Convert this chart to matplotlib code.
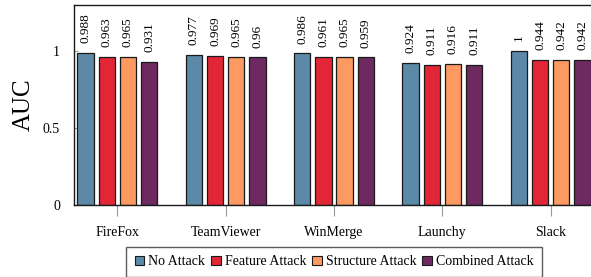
import matplotlib
matplotlib.use("Agg")
import matplotlib.pyplot as plt
import numpy as np
from matplotlib.patches import Patch

categories = ["FireFox", "TeamViewer", "WinMerge", "Launchy", "Slack"]
series_names = ["No Attack", "Feature Attack", "Structure Attack", "Combined Attack"]
no_attack = [0.988, 0.977, 0.986, 0.924, 1]
feature_attack = [0.963, 0.969, 0.961, 0.911, 0.944]
structure_attack = [0.965, 0.965, 0.965, 0.916, 0.942]
combined_attack = [0.931, 0.96, 0.959, 0.911, 0.942]
value_labels = [
    ["0.988", "0.977", "0.986", "0.924", "1"],
    ["0.963", "0.969", "0.961", "0.911", "0.944"],
    ["0.965", "0.965", "0.965", "0.916", "0.942"],
    ["0.931", "0.96", "0.959", "0.911", "0.942"],
]
colors = ["#5c89a8", "#e32636", "#fd9a62", "#6e2a60"]

plt.rcParams['font.family'] = ['Liberation Serif', 'DejaVu Serif']

fig = plt.figure(figsize=(5.91, 2.77), dpi=100)
W, H = 591, 277
ax = fig.add_axes([74 / W, (H - 205) / H, (594 - 74) / W, 200 / H])

series = [no_attack, feature_attack, structure_attack, combined_attack]
x = np.arange(len(categories))
spacing = 0.196
width = 0.15
for i, (vals, col) in enumerate(zip(series, colors)):
    pos = x + (i - 1.5) * spacing
    ax.bar(pos, vals, width, color=col, edgecolor="#1a1a1a", linewidth=0.9, zorder=2)
    for p, v, lab in zip(pos, vals, value_labels[i]):
        ax.annotate(lab, (p, v), xytext=(0, 7), textcoords="offset points",
                    rotation=90, ha="center", va="bottom", fontsize=9.5)

ax.set_xlim(-0.4, 4.4)
ax.set_ylim(0, 1.3)
ax.set_xticks(x)
ax.set_xticklabels(categories, fontsize=10)
ax.set_yticks([0, 0.5, 1])
ax.set_yticklabels(["0", "0.5", "1"], fontsize=10)
ax.tick_params(axis="x", direction="out", length=8, color="#999999", width=0.8, pad=7)
ax.tick_params(axis="y", direction="in", length=3, color="#999999", width=0.8, pad=10)
ax.set_ylabel("AUC", fontsize=18, labelpad=6)
for s in ax.spines.values():
    s.set_linewidth(1.0)
    s.set_color("#1a1a1a")

handles = [Patch(facecolor=c, edgecolor="#1a1a1a", linewidth=0.8) for c in colors]
leg = fig.legend(handles, series_names, loc="upper center",
                 bbox_to_anchor=((74 + 594) / 2 / W, (H - 240) / H),
                 ncol=4, frameon=True, fancybox=False, fontsize=10,
                 handlelength=0.7, handleheight=0.7, handletextpad=0.3,
                 columnspacing=0.4, borderpad=0.6, edgecolor="#333333")
leg.get_frame().set_linewidth(1.0)

fig.savefig("out.png", dpi=100)
